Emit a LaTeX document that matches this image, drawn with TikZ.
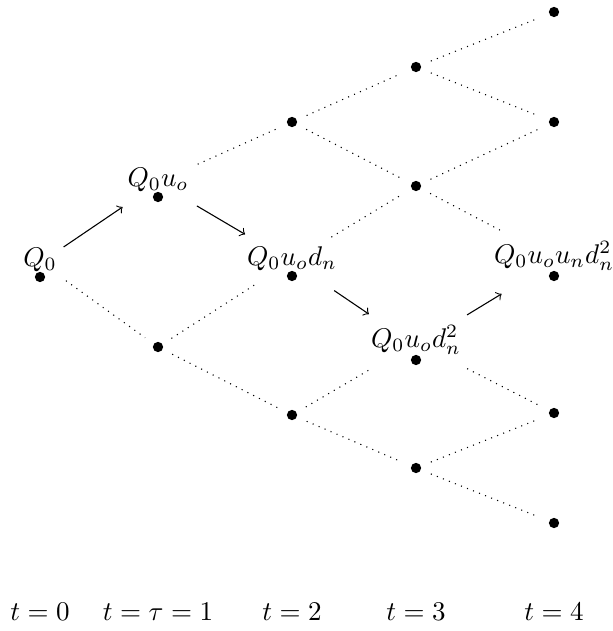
\documentclass[tikz,border=0pt]{standalone}
\usetikzlibrary{calc,fit}

\begin{document}
\begin{tikzpicture}[x=0.37pt,y=0.37pt,yscale=-1,xscale=1,
  dot/.style={circle,fill=black,inner sep=0pt,minimum size=3.8pt,outer sep=4pt},
  hub/.style={inner sep=3pt},
  branch/.style={dotted},
  move/.style={->},
  every label/.style={inner sep=0pt},
  label distance=-4pt]
\useasboundingbox (0,0) rectangle (612,631);

%Shape: Dots, t = 0
\node[dot,label={[name=a0l]above:$Q_0$}] (a0) at (40,277) {};
%Shape: Dots, t = 1
\node[dot,label={[name=b1l]above:$Q_0u_o$}] (b1) at (158,197) {};
\node[dot] (b0) at (158,347) {};
%Shape: Dots, t = 2
\node[dot] (c2) at (292,122) {};
\node[dot,label={[name=c1l]above:$Q_0u_od_n$}] (c1) at (292,276) {};
\node[dot] (c0) at (292,415) {};
%Shape: Dots, t = 3
\node[dot] (d3) at (416,67) {};
\node[dot] (d2) at (416,186) {};
\node[dot,label={[name=d1l]above:$Q_0u_od_n^2$}] (d1) at (416,360) {};
\node[dot] (d0) at (416,468) {};
%Shape: Dots, t = 4
\node[dot] (e4) at (554,12) {};
\node[dot] (e3) at (554,122) {};
\node[dot,label={[name=e2l]above:$Q_0u_ou_nd_n^2$}] (e2) at (554,276) {};
\node[dot] (e1) at (554,413) {};
\node[dot] (e0) at (554,523) {};

% labelled states
\node[hub,fit=(a0.center)(a0l)] (A0) {};
\node[hub,fit=(b1.center)(b1l)] (B1) {};
\node[hub,fit=(c1.center)(c1l)] (C1) {};
\node[hub,fit=(d1.center)(d1l)] (D1) {};
\node[hub,fit=(e2.center)(e2l)] (E2) {};

%Dotted Lines
\draw[branch] (A0) -- (b0);
\draw[branch] (B1) -- (c2);
\draw[branch] (b0) -- (C1);
\draw[branch] (b0) -- (c0);
\draw[branch] (c2) -- (d3);
\draw[branch] (c2) -- (d2);
\draw[branch] (C1) -- (d2);
\draw[branch] (c0) -- (D1);
\draw[branch] (c0) -- (d0);
\draw[branch] (d3) -- (e4);
\draw[branch] (d3) -- (e3);
\draw[branch] (d2) -- (e3);
\draw[branch] (d2) -- (E2);
\draw[branch] (D1) -- (e1);
\draw[branch] (d0) -- (e1);
\draw[branch] (d0) -- (e0);

%Straight Lines, the path
\draw[move] ($(a0)!0.2!(b1)+(0,-14)$) -- ($(a0)!0.7!(b1)+(0,-14)$);
\draw[move] ($(b1)!0.29!(c1)+(0,-14)$) -- ($(b1)!0.65!(c1)+(0,-14)$);
\draw[move] ($(c1)!0.34!(d1)+(0,-14)$) -- ($(c1)!0.62!(d1)+(0,-14)$);
\draw[move] ($(d1)!0.37!(e2)+(0,-14)$) -- ($(d1)!0.62!(e2)+(0,-14)$);

% Text Node
\node (t0) at (40,612) {$t=0$};
\node (t1) at (158,612) {$t=\tau=1$};
\node (t2) at (292,612) {$t=2$};
\node (t3) at (416,612) {$t=3$};
\node (t4) at (554,612) {$t=4$};

\end{tikzpicture}
\end{document}
